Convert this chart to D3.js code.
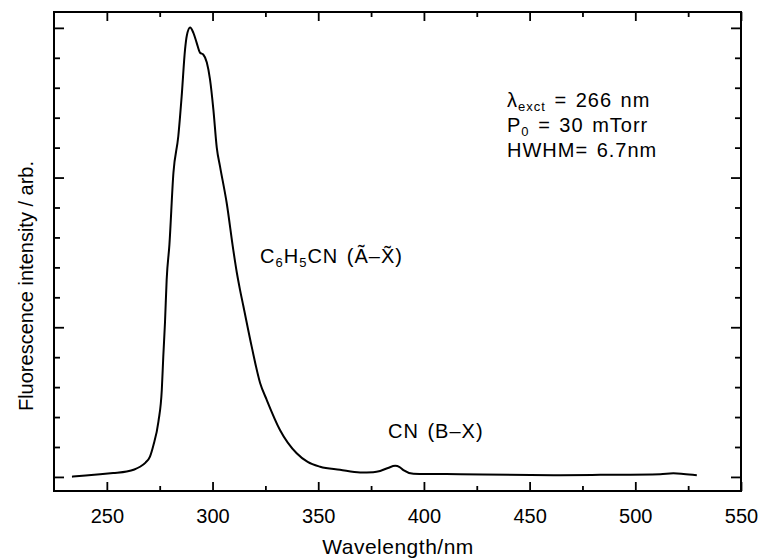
<!DOCTYPE html>
<html>
<head>
<meta charset="utf-8">
<script src="https://cdn.jsdelivr.net/npm/d3@7"></script>
<style>
  body { margin: 0; background: #fff; }
  text { font-family: "Liberation Sans", Arial, Helvetica, sans-serif; fill: #000; }
</style>
</head>
<body>
<svg id="chart" width="760" height="560"></svg>
<script>
// spectrum (wavelength in nm, intensity in arb. units)
var wavelength = [233.5, 240, 246.8, 253, 259.4, 263, 265.7, 268.3, 270.4, 272.0,
  274.4, 276.0, 276.7, 277.5, 278.3, 279.6, 281.5, 283.8, 285.4, 287.0,
  287.8, 289.4, 290.9, 292.5, 294.1, 295.6, 297.3, 298.8, 300.4, 302.0,
  303.6, 306.7, 309.8, 311.5, 313.0, 314.6, 318.5, 322.5, 325.6, 331.9,
  339.8, 345, 350.9, 360.3, 369.8, 376, 379.3, 383, 386.4, 388.5,
  390.3, 395.0, 417.1, 464.4, 483.4, 511.8, 518.0, 522.8, 529.1];
var intensity = [0.01, 0.05, 0.09, 0.13, 0.18, 0.25, 0.34, 0.48, 0.68, 1.05,
  1.85, 2.91, 4.02, 5.15, 6.59, 7.76, 10.16, 11.38, 12.72, 14.28,
  14.73, 15.01, 14.84, 14.50, 14.17, 14.11, 13.84, 13.28, 12.27, 11.0,
  10.35, 9.15, 7.59, 6.82, 6.25, 5.70, 4.36, 3.14, 2.58, 1.57,
  0.79, 0.50, 0.34, 0.24, 0.15, 0.16, 0.20, 0.30, 0.37, 0.33,
  0.23, 0.11, 0.09, 0.06, 0.07, 0.09, 0.12, 0.10, 0.06];

var xMajor = [250, 300, 350, 400, 450, 500, 550];
var xMinor = [275, 325, 375, 425, 475, 525];
var yMajor = [0, 5, 10, 15];
var yMinor = [1, 2, 3, 4, 6, 7, 8, 9, 11, 12, 13, 14];

var margin = {top: 12, right: 19, bottom: 69, left: 54};
var width = 760 - margin.left - margin.right;
var height = 560 - margin.top - margin.bottom;

var svg = d3.select("#chart");
var g = svg.append("g").attr("transform", "translate(" + margin.left + "," + margin.top + ")");

var x = d3.scaleLinear().domain([225, 550]).range([0, width]);
var y = d3.scaleLinear().domain([-0.47, 15.53]).range([height, 0]);

function styleAxis(sel) {
  sel.select(".domain").remove();
  sel.selectAll("line").attr("stroke", "#000").attr("stroke-width", 1.8);
}

// bottom axis with labels
g.append("g")
  .attr("transform", "translate(0," + height + ")")
  .call(d3.axisBottom(x).tickValues(xMajor).tickSize(-9).tickPadding(18))
  .call(styleAxis)
  .selectAll("text").style("font-size", "20px");

g.append("g")
  .attr("transform", "translate(0," + height + ")")
  .call(d3.axisBottom(x).tickValues(xMinor).tickSize(-5).tickFormat(""))
  .call(styleAxis);

// top axis
g.append("g")
  .call(d3.axisTop(x).tickValues(xMajor).tickSize(-9).tickFormat(""))
  .call(styleAxis);
g.append("g")
  .call(d3.axisTop(x).tickValues(xMinor).tickSize(-5).tickFormat(""))
  .call(styleAxis);

// left and right axes, no labels
g.append("g")
  .call(d3.axisLeft(y).tickValues(yMajor).tickSize(-10).tickFormat(""))
  .call(styleAxis);
g.append("g")
  .call(d3.axisLeft(y).tickValues(yMinor).tickSize(-6).tickFormat(""))
  .call(styleAxis);
g.append("g")
  .attr("transform", "translate(" + width + ",0)")
  .call(d3.axisRight(y).tickValues(yMajor).tickSize(-10).tickFormat(""))
  .call(styleAxis);
g.append("g")
  .attr("transform", "translate(" + width + ",0)")
  .call(d3.axisRight(y).tickValues(yMinor).tickSize(-6).tickFormat(""))
  .call(styleAxis);

// frame
g.append("rect")
  .attr("width", width)
  .attr("height", height)
  .attr("fill", "none")
  .attr("stroke", "#000")
  .attr("stroke-width", 2);

// spectrum
var points = wavelength.map(function(w, i) { return [w, intensity[i]]; });
var line = d3.line()
  .x(function(d) { return x(d[0]); })
  .y(function(d) { return y(d[1]); })
  .curve(d3.curveMonotoneX);

g.append("path")
  .datum(points)
  .attr("d", line)
  .attr("fill", "none")
  .attr("stroke", "#000")
  .attr("stroke-width", 2)
  .attr("stroke-linejoin", "round");

// axis titles
svg.append("text")
  .attr("x", 398)
  .attr("y", 554)
  .attr("text-anchor", "middle")
  .style("font-size", "21px")
  .style("letter-spacing", "0.5px")
  .text("Wavelength/nm");

svg.append("text")
  .attr("transform", "translate(33,286) rotate(-90)")
  .attr("text-anchor", "middle")
  .style("font-size", "20px")
  .text("Fluorescence intensity / arb.");

// annotations
function addLine(xp, yp, parts) {
  var t = svg.append("text").attr("x", xp).attr("y", yp)
    .style("font-size", "20px")
    .style("letter-spacing", "1px")
    .style("word-spacing", "2px");
  parts.forEach(function(p) {
    var s = t.append("tspan").text(p.t);
    if (p.sub) {
      s.attr("dy", 4).style("font-size", "13px");
    } else if (p.back) {
      s.attr("dy", -4);
    }
  });
  return t;
}

addLine(507, 107, [{t: "\u03bb"}, {t: "exct", sub: true}, {t: " = 266 nm", back: true}]);
addLine(507, 132, [{t: "P"}, {t: "0", sub: true}, {t: " = 30 mTorr", back: true}]);
addLine(507, 157, [{t: "HWHM= 6.7nm"}]);

addLine(260, 263, [{t: "C"}, {t: "6", sub: true}, {t: "H", back: true}, {t: "5", sub: true},
  {t: "CN (\u00c3\u2013X\u0303)", back: true}]);

addLine(388, 438, [{t: "CN (B\u2013X)"}]);
</script>
</body>
</html>
